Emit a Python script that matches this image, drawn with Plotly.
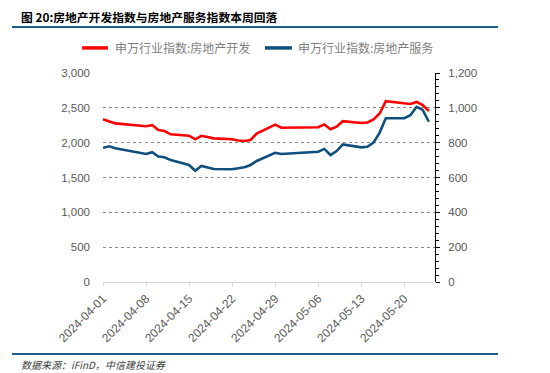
import plotly.graph_objects as go

dates = ["2024-04-01","2024-04-02","2024-04-03","2024-04-08","2024-04-09","2024-04-10","2024-04-11","2024-04-12",
         "2024-04-15","2024-04-16","2024-04-17","2024-04-18","2024-04-19","2024-04-22","2024-04-23","2024-04-24",
         "2024-04-25","2024-04-26","2024-04-29","2024-04-30","2024-05-06","2024-05-07","2024-05-08","2024-05-09",
         "2024-05-10","2024-05-13","2024-05-14","2024-05-15","2024-05-16","2024-05-17","2024-05-20","2024-05-21",
         "2024-05-22","2024-05-23","2024-05-24"]
dev_index = [2335, 2305, 2277, 2236, 2252, 2181, 2167, 2120, 2100, 2048, 2098, 2081, 2062, 2048, 2030, 2023,
             2038, 2130, 2258, 2215, 2222, 2262, 2192, 2229, 2308, 2282, 2290, 2332, 2418, 2595, 2573, 2556,
             2585, 2540, 2454]
svc_index = [771, 779, 768, 735, 745, 720, 716, 700, 672, 639, 666, 656, 649, 647, 653, 659,
             672, 695, 742, 735, 748, 764, 729, 752, 790, 773, 776, 800, 858, 940, 940, 958,
             1006, 988, 920]
name_dev = "申万行业指数:房地产开发"
name_svc = "申万行业指数:房地产服务"
week_ticks = ["2024-04-01","2024-04-08","2024-04-15","2024-04-22","2024-04-29","2024-05-06","2024-05-13","2024-05-20"]
title_text = "图 20:房地产开发指数与房地产服务指数本周回落"
source_text = "数据来源：iFinD，中信建投证券"

CJK = "Noto Sans CJK SC, Liberation Sans, sans-serif"
NUM = "Liberation Sans, Arial, sans-serif"
GRAY = "#595959"
RED = "#FF0000"
BLUE = "#0E4F7E"

fig = go.Figure()
fig.add_trace(go.Scatter(x=dates, y=dev_index, name=name_dev, mode="lines",
                         line=dict(color=RED, width=2.6), yaxis="y"))
fig.add_trace(go.Scatter(x=dates, y=svc_index, name=name_svc, mode="lines",
                         line=dict(color=BLUE, width=2.6), yaxis="y2"))

# page body has an 8px default margin, so the figure is 8px smaller on each axis
fig.update_layout(
    width=542, height=365,
    margin=dict(l=95, r=115, t=65, b=91),
    paper_bgcolor="white", plot_bgcolor="white",
    showlegend=False,
    xaxis=dict(type="date", range=["2024-04-01", "2024-05-25"], automargin=False,
               tickvals=week_ticks, ticktext=week_ticks, tickangle=-45,
               tickfont=dict(family=NUM, size=12, color=GRAY),
               showline=True, linecolor="#D9D9D9", linewidth=1,
               ticks="outside", ticklen=4, tickcolor="#D9D9D9",
               showgrid=False, zeroline=False),
    yaxis=dict(range=[0, 3000], dtick=500, tickformat=",", automargin=False,
               tickfont=dict(family=NUM, size=11.5, color=GRAY),
               showgrid=True, gridcolor="#8C8C8C", griddash="dot", gridwidth=1,
               zeroline=False, showline=False, ticks="", ticklabelstandoff=12),
    yaxis2=dict(range=[0, 1200], dtick=200, tickformat=",", overlaying="y", side="right",
                automargin=False,
                tickfont=dict(family=NUM, size=11.5, color=GRAY),
                showgrid=False, zeroline=False, showline=True, linecolor="black", linewidth=1,
                ticks="outside", ticklen=4, tickcolor="black",
                minor=dict(dtick=40, ticks="outside", ticklen=3, tickcolor="black"),
                ticklabelstandoff=6),
)

# manual legend
for x0, x1, tx, col, nm in [(-0.063, 0.015, 0.030, RED, name_dev), (0.488, 0.569, 0.581, BLUE, name_svc)]:
    fig.add_shape(type="line", xref="paper", yref="paper", x0=x0, x1=x1, y0=1.12, y1=1.12,
                  line=dict(color=col, width=3.5))
    fig.add_annotation(xref="paper", yref="paper", x=tx, y=1.12, xanchor="left", yanchor="middle",
                       text=nm, showarrow=False, font=dict(family=CJK, size=12, color="#7F7F7F"))

# title and separator lines
fig.add_annotation(xref="paper", yref="paper", x=-0.253, y=1.268, xanchor="left", yanchor="middle",
                   text="<b>" + title_text + "</b>", showarrow=False,
                   font=dict(family=CJK, size=11.8, color="black"))
fig.add_shape(type="line", xref="paper", yref="paper", x0=-0.274, x1=1.190, y0=1.22, y1=1.22,
              line=dict(color="#1F5C8B", width=2))
fig.add_shape(type="line", xref="paper", yref="paper", x0=-0.274, x1=1.190, y0=-0.344, y1=-0.344,
              line=dict(color="#1F5C8B", width=2))
fig.add_annotation(xref="paper", yref="paper", x=-0.253, y=-0.397, xanchor="left", yanchor="middle",
                   text="<i>" + source_text + "</i>", showarrow=False,
                   font=dict(family=CJK, size=10, color="#404040"))

fig.write_html("out.html")
